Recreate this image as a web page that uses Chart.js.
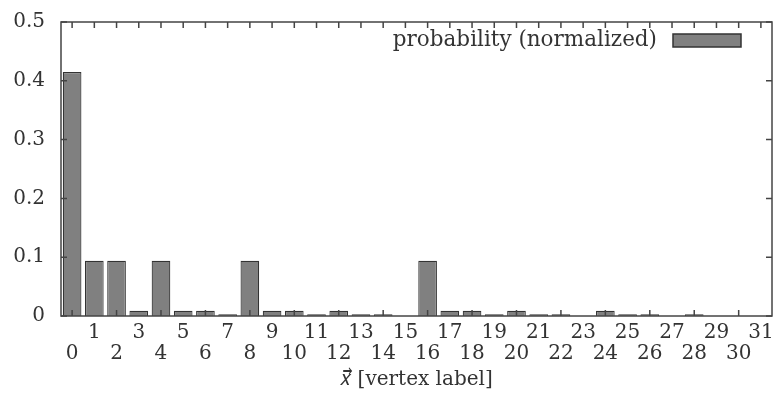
<!DOCTYPE html>
<html lang="en">
  <head>
    <meta charset="UTF-8" />
    <title>Probability per vertex</title>
    <style>
      body { margin: 0; background: #fff; }
    </style>
  </head>
  <body>
    <canvas id="probChart" width="776" height="400"></canvas>

    <script src="https://cdn.jsdelivr.net/npm/chart.js"></script>
    <script>
      const vertexLabels = [
        "0", "1", "2", "3", "4", "5", "6", "7", "8", "9", "10", "11", "12", "13", "14", "15",
        "16", "17", "18", "19", "20", "21", "22", "23", "24", "25", "26", "27", "28", "29", "30", "31",
      ];
      const probabilities = [
        0.415, 0.094, 0.094, 0.009, 0.094, 0.009, 0.009, 0.003,
        0.094, 0.009, 0.009, 0.003, 0.009, 0.003, 0.003, 0,
        0.094, 0.009, 0.009, 0.003, 0.009, 0.003, 0.003, 0,
        0.009, 0.003, 0.003, 0, 0.003, 0, 0, 0,
      ];
      const yTicks = [0, 0.1, 0.2, 0.3, 0.4, 0.5];
      const seriesName = "probability (normalized)";
      const axisTitle = "\u{1D465}\u20D7 [vertex label]";

      const textColor = "#333";
      const serif = "'DejaVu Serif', serif";

      // gnuplot style box: inward ticks on all four sides + legend in top right
      const gnuplotFrame = {
        id: "gnuplotFrame",
        afterDatasetsDraw(chart) {
          const { ctx, chartArea: a, scales } = chart;
          const x = scales.x;
          const y = scales.y;
          ctx.save();
          ctx.strokeStyle = "#444";
          ctx.lineWidth = 1.5;
          ctx.beginPath();
          x.ticks.forEach((t, i) => {
            const px = x.getPixelForTick(i);
            ctx.moveTo(px, a.top);
            ctx.lineTo(px, a.top + 6);
            if (i % 2 === 0) {
              ctx.moveTo(px, a.bottom);
              ctx.lineTo(px, a.bottom - 6);
            }
          });
          y.ticks.forEach((t, i) => {
            const py = y.getPixelForTick(i);
            ctx.moveTo(a.left, py);
            ctx.lineTo(a.left + 6, py);
            ctx.moveTo(a.right, py);
            ctx.lineTo(a.right - 6, py);
          });
          ctx.stroke();
          ctx.strokeRect(a.left, a.top, a.right - a.left, a.bottom - a.top);

          // legend
          const ds = chart.data.datasets[0];
          const boxRight = a.right - 31;
          const boxW = 68;
          const boxH = 13;
          const cy = a.top + 18.5;
          ctx.fillStyle = ds.backgroundColor;
          ctx.fillRect(boxRight - boxW, cy - boxH / 2, boxW, boxH);
          ctx.lineWidth = 1.5;
          ctx.strokeStyle = "#333";
          ctx.strokeRect(boxRight - boxW, cy - boxH / 2, boxW, boxH);
          ctx.font = "21.5px " + serif;
          ctx.fillStyle = textColor;
          ctx.textAlign = "right";
          ctx.textBaseline = "middle";
          ctx.fillText(ds.label, boxRight - boxW - 16, cy);
          ctx.restore();
        },
      };

      const config = {
        type: "bar",
        data: {
          labels: vertexLabels,
          datasets: [
            {
              label: seriesName,
              data: probabilities,
              backgroundColor: "#808080",
              borderColor: "#333",
              borderWidth: 1.2,
              categoryPercentage: 1,
              barPercentage: 0.84,
            },
          ],
        },
        options: {
          responsive: false,
          animation: false,
          layout: {
            padding: { left: 0, right: 4, top: 22, bottom: 0 },
          },
          plugins: {
            legend: { display: false },
            tooltip: { enabled: false },
          },
          scales: {
            x: {
              grid: { display: false, drawTicks: false },
              border: { display: false },
              ticks: {
                autoSkip: false,
                maxRotation: 0,
                padding: 6,
                color: textColor,
                font: { family: serif, size: 20, lineHeight: 1.05 },
                callback: (val, i) =>
                  i % 2 ? [vertexLabels[i], ""] : ["", vertexLabels[i]],
              },
              title: {
                display: true,
                text: axisTitle,
                color: textColor,
                font: { family: serif, size: 20, lineHeight: 1.2 },
                padding: { top: 0, bottom: 8 },
              },
              afterFit: (s) => {
                s.height = 84;
                s.paddingLeft = 0;
                s.paddingRight = 0;
              },
            },
            y: {
              min: 0,
              max: 0.5,
              grid: { display: false, drawTicks: false },
              border: { display: false },
              afterBuildTicks: (s) => {
                s.ticks = yTicks.map((v) => ({ value: v }));
              },
              ticks: {
                padding: 16,
                color: textColor,
                font: { family: serif, size: 20 },
              },
              afterFit: (s) => {
                s.width = 61;
                s.paddingTop = 0;
                s.paddingBottom = 0;
              },
            },
          },
        },
        plugins: [gnuplotFrame],
      };

      const probChart = new Chart(document.getElementById("probChart"), config);
    </script>
  </body>
</html>
